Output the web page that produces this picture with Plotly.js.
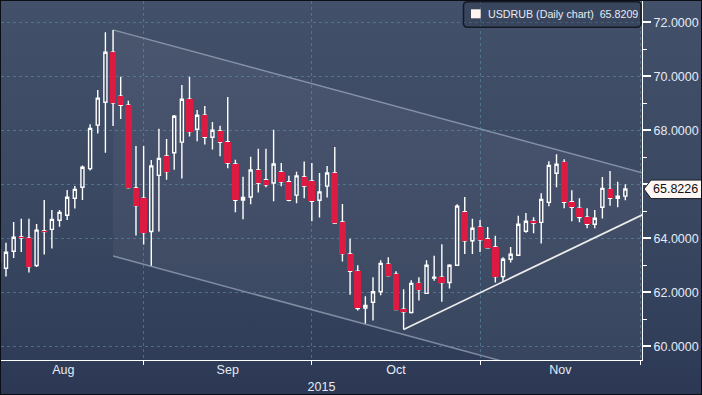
<!DOCTYPE html>
<html><head><meta charset="utf-8">
<script src="https://cdn.plot.ly/plotly-3.0.1.min.js"></script>
<style>
html,body{margin:0;padding:0;background:#2c3853;}
#wrap{position:relative;width:702px;height:395px;overflow:hidden;
 background:linear-gradient(to bottom,#435069 0%,#3f4c66 25%,#3a4761 55%,#323f5a 85%,#2c3853 100%);}
#chart{position:absolute;left:0;top:0;width:702px;height:395px;}
#frame{position:absolute;left:0;top:0;width:702px;height:395px;box-sizing:border-box;border:1px solid #0b0e14;pointer-events:none;}
</style></head><body>
<div id="wrap"><div id="chart"></div><div id="frame"></div></div>
<script>
// Daily USDRUB candles (trading-day index 0..82)
const open  = [63.59,62.89,63.52,64.05,64.00,62.99,64.27,64.33,64.67,64.85,
  65.48,65.89,66.58,68.19,69.04,70.89,69.26,68.93,65.86,65.48,
  64.25,66.33,67.05,67.17,67.56,69.15,68.04,68.56,67.74,67.98,
  67.58,66.75,65.42,65.53,66.53,66.17,66.05,66.46,66.10,65.60,
  66.27,66.12,65.41,65.93,66.42,64.60,63.42,62.78,61.41,61.63,
  62.02,63.04,62.67,61.37,61.25,62.33,61.96,62.53,62.56,62.36,
  63.00,64.98,63.91,64.41,63.98,63.68,62.58,63.22,63.37,64.26,
  64.63,64.59,65.33,66.41,66.81,65.35,65.11,64.78,64.52,65.15,
  65.81,65.48,65.56];
const high  = [63.80,63.83,64.60,64.72,64.72,64.53,65.42,65.05,65.05,65.79,
  65.94,66.70,68.22,69.49,71.63,71.72,69.98,69.09,67.42,67.42,
  66.90,68.06,67.68,68.57,69.68,69.98,68.75,68.90,68.31,68.17,
  69.23,66.91,66.28,67.02,67.32,67.32,68.02,66.79,66.32,66.46,
  66.84,66.79,66.42,66.68,67.38,65.27,63.98,63.00,61.85,62.56,
  63.19,63.30,62.78,62.11,62.44,62.56,63.19,63.35,63.78,63.04,
  65.26,65.53,64.72,64.68,64.42,64.09,63.30,63.68,64.83,64.94,
  64.78,65.67,66.85,67.11,66.93,65.78,65.48,65.11,65.05,66.27,
  66.49,66.09,66.00];
const low   = [62.95,62.58,63.27,63.49,62.73,62.94,63.40,63.62,64.43,64.68,
  65.10,65.42,66.51,67.88,67.17,68.16,68.42,65.84,64.10,63.77,
  62.98,64.25,66.17,66.54,66.21,67.77,67.59,67.47,67.29,67.04,
  66.59,64.96,64.70,65.26,65.70,65.89,65.37,65.93,65.37,65.30,
  65.48,64.63,64.77,65.51,64.54,63.14,61.91,61.32,60.84,60.95,
  61.89,62.58,61.34,60.62,61.21,61.69,61.94,62.43,61.65,62.14,
  62.98,63.42,63.42,63.49,63.63,62.36,62.40,63.10,63.35,64.20,
  64.19,63.81,65.19,65.89,65.11,64.63,64.59,64.37,64.37,64.73,
  65.20,65.15,65.41];
const close = [63.10,63.48,64.04,64.02,62.95,64.30,64.25,64.70,64.96,65.52,
  65.81,66.63,68.07,69.19,70.89,69.02,68.93,65.88,65.21,64.21,
  66.68,66.96,66.47,68.52,69.15,67.95,68.56,67.74,68.00,67.56,
  66.79,65.41,65.51,66.53,66.05,65.98,66.75,66.09,65.41,66.31,
  65.93,65.37,65.72,66.42,64.56,63.43,62.78,61.40,61.51,62.02,
  63.07,62.62,61.36,61.28,62.33,62.10,63.00,62.56,62.36,63.00,
  65.19,63.91,64.37,63.94,63.65,62.58,63.22,63.41,64.52,64.63,
  64.56,65.44,66.70,66.74,65.33,65.15,64.77,64.52,64.74,65.85,
  65.48,65.56,65.8226];

// Month boundaries (first trading day index) and label positions (month mid-points)
const monthStarts = [19, 41, 63, 84];
const monthLabels = ['Aug', 'Sep', 'Oct', 'Nov'];
const monthMid    = [8.5, 30, 52, 73.5];
const yearLabel   = '2015';

// Price axis ticks (66 is hidden behind the last-price callout)
const priceTicks  = [60, 62, 64, 66, 68, 70, 72];
const hiddenTick  = 66;

// Price annotations
const seriesName  = 'USDRUB (Daily chart)';
const legendPrice = 65.8209;
const lastPrice   = 65.8226;

// Trend channel / support line end points [index, price]
const channelTop    = [[15, 71.72], [84.3, 66.42]];
const channelBottom = [[15, 63.34], [84.3, 58.04]];
const supportLine   = [[53, 60.62], [84.3, 64.88]];

// ---------------------------------------------------------------
const idx = open.map((_, i) => i);
const decIdx = idx.filter(i => close[i] < open[i]);
const RED = '#dd1a41';
const XR = [0.346, 84.18];
const YR = [59.49, 72.79];

const candles = {
  type: 'candlestick', x: idx, open: open, high: high, low: low, close: close,
  increasing: {line: {color: '#ffffff', width: 1.4}, fillcolor: 'rgba(0,0,0,0)'},
  decreasing: {line: {color: '#ffffff', width: 1.4}, fillcolor: RED},
  whiskerwidth: 0, showlegend: false, hoverinfo: 'skip'
};
const redBodies = {
  type: 'bar', xaxis: 'x2', yaxis: 'y2',
  x: decIdx, base: decIdx.map(i => close[i]),
  y: decIdx.map(i => Math.max(open[i] - close[i], 0.03)),
  width: 0.9, marker: {color: RED, line: {width: 0}},
  showlegend: false, hoverinfo: 'skip'
};

// pixel -> paper helpers for legend box (plot area: x 1..642, y 1..360)
const pw = 641, ph = 359;
const PX = p => (p - 1) / pw;
const PY = p => (360 - p) / ph;
function roundRect(x0, y0, x1, y1, r) {
  const rx = r / pw, ry = r / ph;
  const a = PX(x0), b = PX(x1), t = PY(y0), u = PY(y1);
  return `M${a+rx},${t} L${b-rx},${t} Q${b},${t} ${b},${t-ry} L${b},${u+ry} Q${b},${u} ${b-rx},${u} ` +
         `L${a+rx},${u} Q${a},${u} ${a},${u+ry} L${a},${t-ry} Q${a},${t} ${a+rx},${t} Z`;
}

const grid = 'rgba(95,150,178,0.55)';
const fontFam = 'Liberation Sans, Arial, sans-serif';
const txt = '#e4ebf5';

const layout = {
  width: 702, height: 395,
  margin: {l: 1, r: 60, t: 1, b: 35},
  paper_bgcolor: 'rgba(0,0,0,0)', plot_bgcolor: 'rgba(0,0,0,0)',
  showlegend: false, hovermode: false, dragmode: false,
  boxgap: 0.6, boxgroupgap: 0, bargap: 0,
  font: {family: fontFam, color: txt, size: 12.5},
  xaxis: {
    type: 'linear', range: XR, rangeslider: {visible: false},
    tickmode: 'array', tickvals: monthStarts,
    ticktext: monthStarts.map(() => ''), showticklabels: false,
    ticks: 'outside', ticklen: 4, tickwidth: 1, tickcolor: '#ffffff',
    showgrid: true, gridcolor: grid, griddash: '3px,3px', gridwidth: 1,
    showline: true, linecolor: '#ffffff', linewidth: 1, zeroline: false,
    title: {text: yearLabel, font: {family: fontFam, size: 12.5, color: txt}, standoff: 18}
  },
  xaxis2: {
    overlaying: 'x', side: 'bottom', anchor: 'y2', type: 'linear', range: XR,
    tickmode: 'array', tickvals: monthMid, ticktext: monthLabels,
    ticks: '', showgrid: false, showline: false, zeroline: false,
    tickfont: {family: fontFam, size: 12.5, color: txt}
  },
  yaxis: {
    side: 'right', range: YR, tickmode: 'array', tickvals: priceTicks,
    ticktext: priceTicks.map(v => v === hiddenTick ? '' : v.toFixed(4)),
    ticks: 'outside', ticklen: 8, tickwidth: 2, tickcolor: '#ffffff',
    minor: {dtick: 1, tick0: 59, ticks: 'outside', ticklen: 4, tickwidth: 1, tickcolor: '#ffffff', showgrid: false},
    showgrid: true, gridcolor: grid, griddash: '3px,3px', gridwidth: 1,
    showline: true, linecolor: '#ffffff', linewidth: 1, zeroline: false,
    tickfont: {family: fontFam, size: 12.5, color: txt}
  },
  yaxis2: {overlaying: 'y', range: YR, visible: false},
  shapes: [
    {type: 'path', xref: 'x', yref: 'y', layer: 'below',
     path: `M${channelTop[0][0]},${channelTop[0][1]} L${channelTop[1][0]},${channelTop[1][1]} L${channelBottom[1][0]},${channelBottom[1][1]} L${channelBottom[0][0]},${channelBottom[0][1]} Z`,
     fillcolor: 'rgba(255,255,255,0.045)', line: {width: 0}},
    {type: 'line', xref: 'x', yref: 'y', layer: 'below',
     x0: channelTop[0][0], y0: channelTop[0][1], x1: channelTop[1][0], y1: channelTop[1][1],
     line: {color: 'rgba(200,210,228,0.5)', width: 1.5}},
    {type: 'line', xref: 'x', yref: 'y', layer: 'below',
     x0: channelBottom[0][0], y0: channelBottom[0][1], x1: channelBottom[1][0], y1: channelBottom[1][1],
     line: {color: 'rgba(200,210,228,0.5)', width: 1.5}},
    {type: 'line', xref: 'x', yref: 'y', layer: 'above',
     x0: supportLine[0][0], y0: supportLine[0][1], x1: supportLine[1][0], y1: supportLine[1][1],
     line: {color: '#ececec', width: 1.8}},
    // legend box
    {type: 'path', xref: 'paper', yref: 'paper', layer: 'above',
     path: roundRect(463.5, 1.8, 641, 27.3, 4),
     fillcolor: 'rgba(40,52,75,0.35)', line: {color: '#141a25', width: 1.5}},
    {type: 'rect', xref: 'paper', yref: 'paper', layer: 'above',
     x0: PX(471), x1: PX(480.7), y0: PY(9.3), y1: PY(18.3),
     fillcolor: '#fff4ef', line: {width: 0}},
    // last price callout on the right axis
    {type: 'path', xref: 'paper', yref: 'y', layer: 'above',
     xsizemode: 'pixel', xanchor: 1, ysizemode: 'pixel', yanchor: lastPrice,
     path: 'M2,0 L9,9 L60,9 L60,-9.5 L9,-9.5 Z',
     fillcolor: '#fdf6f2', line: {color: '#1a1f2a', width: 1}}
  ],
  annotations: [
    {xref: 'paper', yref: 'paper', x: PX(486), y: PY(14), xanchor: 'left', yanchor: 'middle',
     text: seriesName + '\u00a0\u00a0' + legendPrice.toFixed(4), showarrow: false,
     font: {family: fontFam, size: 10.7, color: '#e6ecf5'}},
    {xref: 'paper', yref: 'y', x: 1, y: lastPrice, xanchor: 'left', yanchor: 'middle',
     xshift: 9, text: lastPrice.toFixed(4), showarrow: false,
     font: {family: fontFam, size: 12.5, color: '#111111'}}
  ]
};

Plotly.newPlot('chart', [candles, redBodies], layout, {staticPlot: true, displayModeBar: false});
</script>
</body></html>
